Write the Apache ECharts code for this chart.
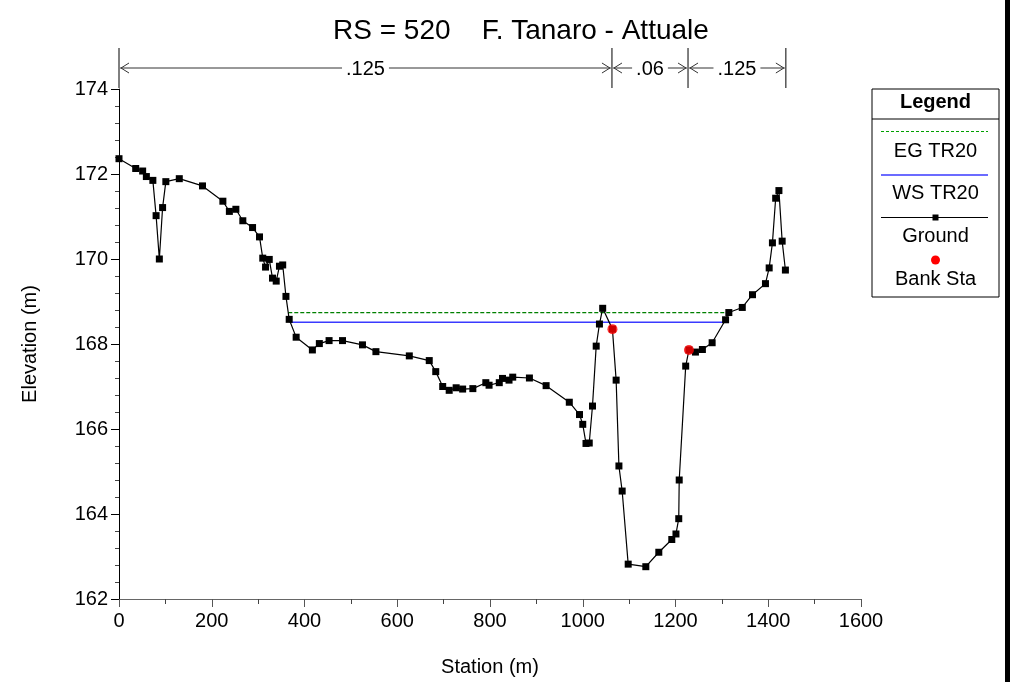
<!DOCTYPE html>
<html><head><meta charset="utf-8">
<script src="https://cdn.jsdelivr.net/npm/echarts@6/dist/echarts.min.js"></script>
<style>html,body{margin:0;padding:0;background:#fff}#c{width:1011px;height:682px}</style>
</head><body><div id="c"></div>
<script>
const titleText = 'RS = 520    F. Tanaro - Attuale';
const groundStation = [0,36,51,59,73,80,87,94,101,130,180,224,238,252,267,288,303,310,316,324,331,339,346,353,360,367,382,417,432,453,482,525,554,626,669,683,698,712,727,741,763,791,798,820,827,841,849,885,921,971,993,1000,1007,1014,1021,1029,1036,1043,1064,1072,1078,1085,1098,1136,1164,1192,1201,1207,1208,1222,1229,1243,1258,1279,1308,1315,1344,1366,1394,1402,1409,1416,1423,1430,1437];
const groundElev = [172.36,172.13,172.07,171.94,171.85,171.02,170.00,171.21,171.82,171.89,171.72,171.36,171.12,171.17,170.90,170.74,170.52,170.02,169.81,169.99,169.55,169.48,169.83,169.86,169.12,168.58,168.16,167.86,168.01,168.08,168.08,167.98,167.82,167.72,167.61,167.35,167.00,166.91,166.97,166.94,166.95,167.09,167.03,167.09,167.19,167.15,167.22,167.20,167.02,166.63,166.34,166.11,165.66,165.67,166.54,167.95,168.47,168.84,168.35,167.15,165.13,164.54,162.82,162.76,163.10,163.40,163.53,163.89,164.80,167.48,167.86,167.81,167.87,168.03,168.57,168.74,168.86,169.16,169.42,169.79,170.38,171.43,171.61,170.42,169.74];
const wsStation = [368, 1305];
const wsElev = [168.51, 168.51];
const egStation = [365, 1315];
const egElev = [168.74, 168.74];
const bankStation = [1064, 1229];
const bankElev = [168.35, 167.86];
const nBreaks = [0, 1063, 1227, 1438];
const nValues = ['.125', '.06', '.125'];
const xTicks = [0, 1600, 200];
const yTicks = [162, 174, 2];
const legendNames = ['EG TR20', 'WS TR20', 'Ground', 'Bank Sta'];

const FONT = 'Liberation Sans, Arial, sans-serif';
const zip = (a, b) => a.map((v, i) => [v, b[i]]);

const chart = echarts.init(document.getElementById('c'), null, {renderer: 'canvas'});
const option = {
  animation: false,
  backgroundColor: '#fff',
  grid: {left: 119, right: 150, top: 89, bottom: 80, containLabel: false},
  xAxis: {
    type: 'value', min: xTicks[0], max: xTicks[1], interval: xTicks[2],
    name: 'Station (m)', nameLocation: 'middle', nameGap: 58,
    nameTextStyle: {fontFamily: FONT, fontSize: 20, color: '#000'},
    axisLine: {onZero: false, lineStyle: {color: '#666', width: 1}},
    axisTick: {show: true, inside: false, length: 8, lineStyle: {color: '#555'}},
    minorTick: {show: true, splitNumber: 2, length: 5, lineStyle: {color: '#444'}},
    axisLabel: {fontFamily: FONT, fontSize: 20, color: '#000', margin: 12, formatter: v => String(v)},
    splitLine: {show: false}
  },
  yAxis: {
    type: 'value', min: yTicks[0], max: yTicks[1], interval: yTicks[2],
    name: 'Elevation (m)', nameLocation: 'middle', nameGap: 79, nameRotate: 90,
    nameTextStyle: {fontFamily: FONT, fontSize: 20, color: '#000'},
    axisLine: {show: true, onZero: false, lineStyle: {color: '#000', width: 1}},
    axisTick: {show: true, inside: false, length: 8, lineStyle: {color: '#000'}},
    minorTick: {show: true, splitNumber: 5, length: 4, lineStyle: {color: '#444'}},
    axisLabel: {fontFamily: FONT, fontSize: 20, color: '#000', margin: 11},
    splitLine: {show: false}
  },
  series: [
    {name: legendNames[0], type: 'line', data: zip(egStation, egElev), symbol: 'none',
     lineStyle: {color: '#008000', width: 1.3, type: [4, 2]}, z: 3},
    {name: legendNames[1], type: 'line', data: zip(wsStation, wsElev), symbol: 'none',
     lineStyle: {color: '#3a3aff', width: 1.5}, z: 3},
    {name: legendNames[2], type: 'line', data: zip(groundStation, groundElev), symbol: 'rect', symbolSize: 7,
     itemStyle: {color: '#000'}, lineStyle: {color: '#000', width: 1.2}, z: 4},
    {name: legendNames[3], type: 'scatter', data: zip(bankStation, bankElev), symbol: 'circle', symbolSize: 10,
     itemStyle: {color: '#ff0000'}, z: 5}
  ]
};
chart.setOption(option);

const g = [];
g.push({type: 'text', x: 333, y: 31, style: {text: titleText, font: '28px ' + FONT, fill: '#000', align: 'left', verticalAlign: 'middle'}});
const yArrow = 68, topBar = 48, botBar = 88;
const px = nBreaks.map(s => chart.convertToPixel({xAxisIndex: 0}, s));
px.forEach(x => {
  g.push({type: 'line', shape: {x1: x, y1: topBar, x2: x, y2: botBar}, style: {stroke: '#000', lineWidth: 1}});
});
for (let i = 0; i < nValues.length; i++) {
  const a = px[i], b = px[i + 1];
  g.push({type: 'line', shape: {x1: a + 1, y1: yArrow, x2: b - 1, y2: yArrow}, style: {stroke: '#333', lineWidth: 1}});
  g.push({type: 'polyline', shape: {points: [[a + 10, yArrow - 5], [a + 2, yArrow], [a + 10, yArrow + 5]]}, style: {stroke: '#333', lineWidth: 1, fill: null}});
  g.push({type: 'polyline', shape: {points: [[b - 10, yArrow - 5], [b - 2, yArrow], [b - 10, yArrow + 5]]}, style: {stroke: '#333', lineWidth: 1, fill: null}});
  g.push({type: 'text', x: (a + b) / 2, y: yArrow + 1, style: {text: nValues[i], font: '20px ' + FONT, fill: '#000', align: 'center', verticalAlign: 'middle', backgroundColor: '#fff', padding: [0, 4]}, z: 10});
}
const L = 872, R = 999, T = 89, B = 297, C = (L + R) / 2;
const lf = '20px ' + FONT;
g.push({type: 'rect', shape: {x: L, y: T, width: R - L, height: B - T}, style: {stroke: '#000', lineWidth: 1, fill: '#fff'}, z: 20});
g.push({type: 'text', x: C, y: 102, style: {text: 'Legend', font: 'bold 20px ' + FONT, fill: '#000', align: 'center', verticalAlign: 'middle'}, z: 21});
g.push({type: 'line', shape: {x1: L, y1: 119, x2: R, y2: 119}, style: {stroke: '#000', lineWidth: 1}, z: 21});
const iL = 881, iR = 988;
g.push({type: 'line', shape: {x1: iL, y1: 131.5, x2: iR, y2: 131.5}, style: {stroke: '#00a000', lineWidth: 1.2, lineDash: [3, 2]}, z: 21});
g.push({type: 'text', x: C, y: 151, style: {text: legendNames[0], font: lf, fill: '#000', align: 'center', verticalAlign: 'middle'}, z: 21});
g.push({type: 'line', shape: {x1: iL, y1: 175, x2: iR, y2: 175}, style: {stroke: '#3a3aff', lineWidth: 1.5}, z: 21});
g.push({type: 'text', x: C, y: 193, style: {text: legendNames[1], font: lf, fill: '#000', align: 'center', verticalAlign: 'middle'}, z: 21});
g.push({type: 'line', shape: {x1: iL, y1: 217.5, x2: iR, y2: 217.5}, style: {stroke: '#000', lineWidth: 1}, z: 21});
g.push({type: 'rect', shape: {x: C - 3, y: 214.5, width: 6, height: 6}, style: {fill: '#000'}, z: 22});
g.push({type: 'text', x: C, y: 236, style: {text: legendNames[2], font: lf, fill: '#000', align: 'center', verticalAlign: 'middle'}, z: 21});
g.push({type: 'circle', shape: {cx: C, cy: 260, r: 4.5}, style: {fill: '#ff0000'}, z: 21});
g.push({type: 'text', x: C, y: 279, style: {text: legendNames[3], font: lf, fill: '#000', align: 'center', verticalAlign: 'middle'}, z: 21});
g.push({type: 'rect', shape: {x: 1005, y: 0, width: 5, height: 682}, style: {fill: '#000'}, z: 21});
chart.setOption({graphic: {elements: g}});
</script>
</body></html>
